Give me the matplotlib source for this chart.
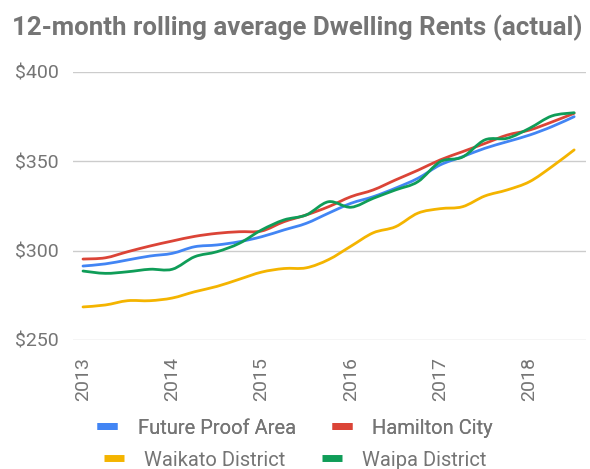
import matplotlib
matplotlib.use("Agg")
import matplotlib.pyplot as plt
from matplotlib.lines import Line2D
from matplotlib.path import Path
from matplotlib.patches import PathPatch

# Quarterly readings (2013.0 .. 2018.5)
years = [2013.0, 2013.25, 2013.5, 2013.75, 2014.0, 2014.25, 2014.5, 2014.75,
         2015.0, 2015.25, 2015.5, 2015.75, 2016.0, 2016.25, 2016.5, 2016.75,
         2017.0, 2017.25, 2017.5, 2017.75, 2018.0, 2018.25, 2018.5]

future_proof = [291.4, 292.6, 294.8, 297.0, 298.5, 302.2, 303.2, 305.0,
                307.8, 311.6, 315.3, 321.0, 326.5, 330.2, 335.0, 340.5,
                348.0, 352.6, 357.3, 361.0, 364.7, 369.4, 375.0]
hamilton = [295.3, 296.0, 299.4, 302.6, 305.4, 308.0, 309.7, 310.6,
            311.0, 316.2, 320.0, 324.6, 330.2, 334.0, 339.6, 345.0,
            350.8, 355.4, 360.0, 364.7, 367.5, 372.0, 376.9]
waikato = [268.5, 269.6, 272.0, 272.0, 273.5, 277.0, 280.0, 284.0,
           288.0, 290.0, 290.4, 295.0, 302.5, 310.0, 313.4, 321.0,
           323.5, 324.6, 330.6, 334.0, 338.6, 347.0, 356.4]
waipa = [288.6, 287.3, 288.2, 289.6, 289.6, 296.6, 299.4, 304.1,
         311.6, 317.2, 320.0, 327.4, 324.3, 329.3, 334.0, 338.6,
         349.8, 352.4, 362.0, 362.9, 368.5, 375.4, 377.2]

series_names = ["Future Proof Area", "Hamilton City", "Waikato District", "Waipa District"]
colors = ["#4285F4", "#DB4437", "#F4B400", "#0F9D58"]
yticks = [250, 300, 350, 400]
ytick_labels = ["$250", "$300", "$350", "$400"]
xticks = [2013, 2014, 2015, 2016, 2017, 2018]

plt.rcParams['font.family'] = ['Roboto', 'DejaVu Sans']
grey = "#757575"

fig = plt.figure(figsize=(5.9, 4.69), dpi=100)
ax = fig.add_axes([73/590, 1-340/469, (586-73)/590, (340-72)/469])


def smooth_path(xs, ys):
    """Catmull-Rom curve through the data points, expressed as cubic Beziers."""
    n = len(xs)
    verts = [(xs[0], ys[0])]
    codes = [Path.MOVETO]
    for i in range(n - 1):
        x0, y0 = (xs[i - 1], ys[i - 1]) if i > 0 else (xs[i], ys[i])
        x1, y1 = xs[i], ys[i]
        x2, y2 = xs[i + 1], ys[i + 1]
        x3, y3 = (xs[i + 2], ys[i + 2]) if i + 2 < n else (x2, y2)
        c1 = (x1 + (x2 - x0) / 6.0, y1 + (y2 - y0) / 6.0)
        c2 = (x2 - (x3 - x1) / 6.0, y2 - (y3 - y1) / 6.0)
        verts += [c1, c2, (x2, y2)]
        codes += [Path.CURVE4] * 3
    return Path(verts, codes)


all_series = [future_proof, hamilton, waikato, waipa]
for vals, c in zip(all_series, colors):
    patch = PathPatch(smooth_path(years, vals), facecolor='none', edgecolor=c,
                      lw=2.0, capstyle='round', joinstyle='round', zorder=3,
                      transform=ax.transData)
    ax.add_patch(patch)

ax.set_ylim(250, 400)
ax.set_xlim(2013 - 10/89.3, 2013 + 503/89.3)
ax.set_yticks(yticks)
ax.set_yticklabels(ytick_labels)
ax.set_xticks(xticks)
ax.set_xticklabels([str(x) for x in xticks], rotation=90)
ax.tick_params(axis='both', length=0, labelsize=14, labelcolor=grey)
ax.tick_params(axis='y', pad=10)
ax.tick_params(axis='x', pad=12)
ax.grid(axis='y', color="#cccccc", lw=1.0)
ax.set_axisbelow(True)
for s in ax.spines.values():
    s.set_visible(False)

fig.text(12/590, 1-28/469, "12-month rolling average Dwelling Rents (actual)",
         fontsize=18.6, fontweight='bold', color=grey, va='center', ha='left')


def handle(c):
    return Line2D([0], [0], color=c, lw=5, solid_capstyle='butt')


leg1 = fig.legend([handle(colors[0]), handle(colors[1])], series_names[:2],
                  loc='center', bbox_to_anchor=(0.5, 1-428/469), ncol=2,
                  frameon=False, fontsize=14.5, labelcolor=grey,
                  handlelength=1.0, handletextpad=1.0, columnspacing=1.8)
leg2 = fig.legend([handle(colors[2]), handle(colors[3])], series_names[2:],
                  loc='center', bbox_to_anchor=(0.5, 1-460/469), ncol=2,
                  frameon=False, fontsize=14.5, labelcolor=grey,
                  handlelength=1.0, handletextpad=1.0, columnspacing=1.8)
fig.add_artist(leg1)

fig.savefig("out.png", dpi=100)
